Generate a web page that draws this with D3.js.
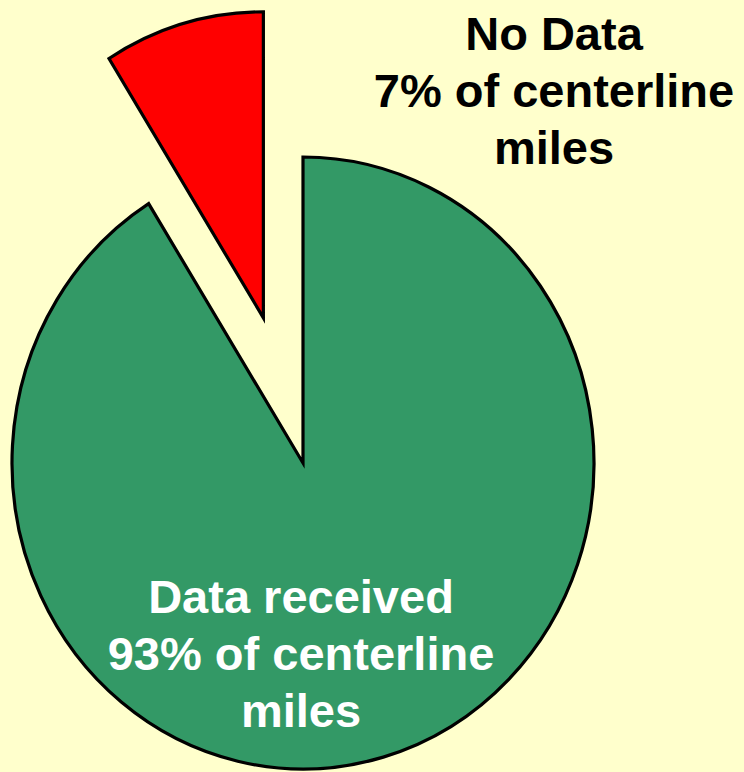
<!DOCTYPE html>
<html>
<head>
<meta charset="utf-8">
<script src="https://cdn.jsdelivr.net/npm/d3@7"></script>
<style>
  html, body { margin: 0; padding: 0; background: #FFFFCC; }
  svg { display: block; }
  text { font-family: "Liberation Sans", Arial, Helvetica, sans-serif; font-weight: bold; }
</style>
</head>
<body>
<svg id="chart" width="744" height="772"></svg>
<script>
const categories = ["Data received", "No Data"];
const values = [91.1, 8.9];
const percentLabels = ["93%", "7%"];
const colors = ["#339966", "#FF0000"];
const explode = [0, 151];

const W = 744, H = 772;
const cx = 303, cy = 463, R = 306, sx = 291 / 306;

const svg = d3.select("#chart");
svg.append("rect").attr("width", W).attr("height", H).attr("fill", "#FFFFCC");

const pie = d3.pie().sort(null).value(d => d.value).startAngle(0).endAngle(2 * Math.PI);
const data = categories.map((c, i) => ({ cat: c, value: values[i], pct: percentLabels[i], color: colors[i], ex: explode[i] }));
const arcs = pie(data);
const arc = d3.arc().innerRadius(0).outerRadius(R);

const g = svg.append("g").attr("transform", `translate(${cx},${cy}) scale(${sx},1)`);
g.selectAll("path").data(arcs).join("path")
  .attr("d", arc)
  .attr("transform", d => {
    const mid = (d.startAngle + d.endAngle) / 2;
    return `translate(${Math.sin(mid) * d.data.ex},${-Math.cos(mid) * d.data.ex})`;
  })
  .attr("fill", d => d.data.color)
  .attr("stroke", "#000")
  .attr("stroke-width", 3.2)
  .attr("stroke-linejoin", "miter")
  .attr("vector-effect", "non-scaling-stroke");

// Labels
const labelPos = [
  { x: 301, y: 613, fill: "#FFFFFF" },
  { x: 554, y: 50, fill: "#000000" }
];
const lineGap = 57;
data.forEach((d, i) => {
  const lines = [d.cat, d.pct + " of centerline", "miles"];
  const t = svg.append("text")
    .attr("text-anchor", "middle")
    .attr("font-size", 47)
    .attr("fill", labelPos[i].fill);
  lines.forEach((ln, j) => {
    t.append("tspan").attr("x", labelPos[i].x).attr("y", labelPos[i].y + j * lineGap).text(ln);
  });
});
</script>
</body>
</html>
